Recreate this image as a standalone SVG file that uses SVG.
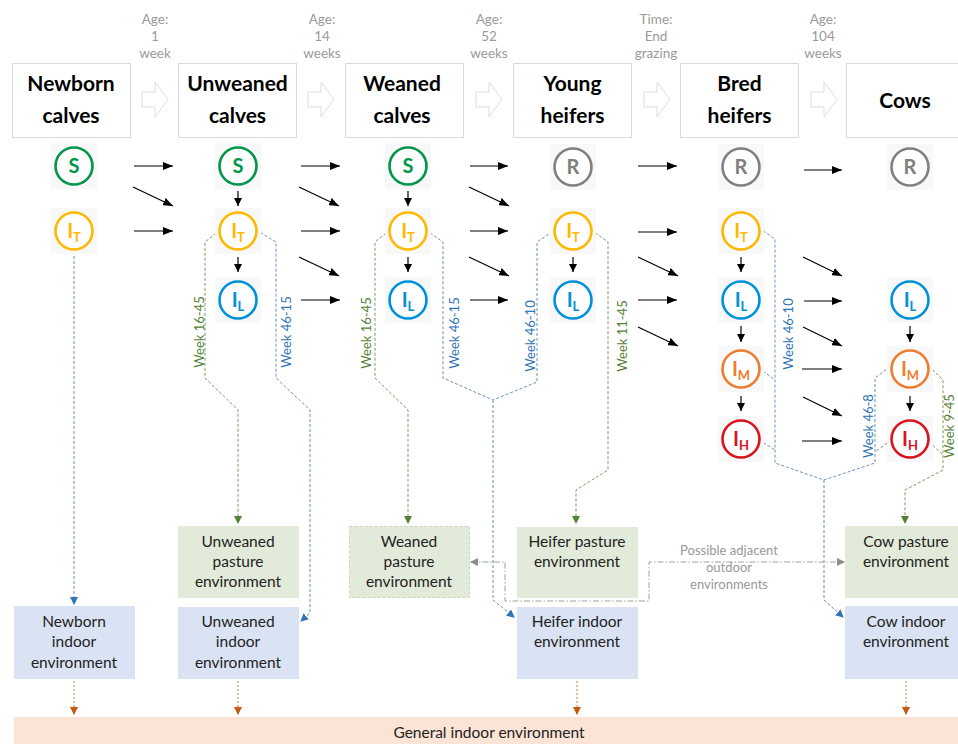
<svg xmlns="http://www.w3.org/2000/svg" width="958" height="744" viewBox="0 0 958 744">
<defs>
<style>
.hb{fill:#fff;stroke:#dadada;stroke-width:1}
.ht{font-family:Lato,"Open Sans",sans-serif;font-weight:bold;font-size:21px;fill:#000;text-anchor:middle}
.ag{font-family:Lato,"Open Sans",sans-serif;font-size:13.5px;fill:#9a9a9a;text-anchor:middle}
.ba{fill:#fff;stroke:#dcdcdc;stroke-width:1}
.sq{fill:#f8f8f8}
.c{fill:#fff;stroke-width:2.6}
.cl{font-family:Lato,"Open Sans",sans-serif;font-weight:bold;font-size:20px;text-anchor:middle}
.sub{font-size:13px}
.ar{stroke:#000;stroke-width:1.2;fill:none;marker-end:url(#ah)}
.vs{stroke:#000;stroke-width:1.2;fill:none;marker-end:url(#ahs)}
.dg{stroke:#7d9a62;stroke-width:1;stroke-dasharray:3 2;fill:none}
.db{stroke:#6b8fbc;stroke-width:1;stroke-dasharray:3 2;fill:none}
.do{stroke:#c8783e;stroke-width:1;stroke-dasharray:2 2;fill:none;marker-end:url(#mo)}
.dd{stroke:#a0a0a0;stroke-width:1;stroke-dasharray:6 2 1.5 2;fill:none}
.wg{font-family:Lato,"Open Sans",sans-serif;font-size:13px;fill:#548235;text-anchor:middle}
.wb{font-family:Lato,"Open Sans",sans-serif;font-size:13px;fill:#2e75b6;text-anchor:middle}
.pb{fill:#e2ead9}
.ib{fill:#dae3f3}
.et{font-family:Lato,"Open Sans",sans-serif;font-size:15.5px;fill:#222;text-anchor:middle}
.pt{font-family:Lato,"Open Sans",sans-serif;font-size:13px;fill:#999;text-anchor:middle}
</style>
<marker id="ah" viewBox="0 0 10 8" markerWidth="10" markerHeight="8" refX="10" refY="4" orient="auto" markerUnits="userSpaceOnUse"><path d="M0,0L10,4L0,8z" fill="#000"/></marker>
<marker id="ahs" viewBox="0 0 8 8" markerWidth="8" markerHeight="8" refX="8" refY="4" orient="auto" markerUnits="userSpaceOnUse"><path d="M0,0L8,4L0,8z" fill="#000"/></marker>
<marker id="mg" viewBox="0 0 8 8" markerWidth="8" markerHeight="8" refX="7" refY="4" orient="auto" markerUnits="userSpaceOnUse"><path d="M0,0L8,4L0,8z" fill="#548235"/></marker>
<marker id="mb" viewBox="0 0 8 8" markerWidth="8" markerHeight="8" refX="7" refY="4" orient="auto" markerUnits="userSpaceOnUse"><path d="M0,0L8,4L0,8z" fill="#2e75b6"/></marker>
<marker id="mo" viewBox="0 0 8 8" markerWidth="8" markerHeight="8" refX="7" refY="4" orient="auto" markerUnits="userSpaceOnUse"><path d="M0,0L8,4L0,8z" fill="#c55a11"/></marker>
<marker id="mgr" viewBox="0 0 8 8" markerWidth="8" markerHeight="8" refX="7" refY="4" orient="auto-start-reverse" markerUnits="userSpaceOnUse"><path d="M0,0L8,4L0,8z" fill="#8c8c8c"/></marker>
<path id="barrow" d="M0,10h13v-10l13,17.5l-13,17.5v-10h-13z"/>
</defs>
<rect width="958" height="744" fill="#fff"/>

<!-- stage headers -->
<g id="stage-newborn"><rect class="hb" x="12.5" y="63.5" width="118" height="74"/><text class="ht" x="71" y="91">Newborn</text><text class="ht" x="71" y="123">calves</text></g>
<g id="stage-unweaned"><rect class="hb" x="178.5" y="63.5" width="118" height="74"/><text class="ht" x="237.5" y="91">Unweaned</text><text class="ht" x="237.5" y="123">calves</text></g>
<g id="stage-weaned"><rect class="hb" x="345.5" y="63.5" width="118" height="74"/><text class="ht" x="402" y="91">Weaned</text><text class="ht" x="402" y="123">calves</text></g>
<g id="stage-young"><rect class="hb" x="513.5" y="63.5" width="118" height="74"/><text class="ht" x="572.5" y="91">Young</text><text class="ht" x="572.5" y="123">heifers</text></g>
<g id="stage-bred"><rect class="hb" x="680.5" y="63.5" width="118" height="74"/><text class="ht" x="739.5" y="91">Bred</text><text class="ht" x="739.5" y="123">heifers</text></g>
<g id="stage-cows"><rect class="hb" x="846.5" y="63.5" width="118" height="74"/><text class="ht" x="905" y="108">Cows</text></g>

<!-- transition block arrows and labels -->
<g id="transitions">
<use href="#barrow" class="ba" x="142" y="82"/>
<use href="#barrow" class="ba" x="308" y="82"/>
<use href="#barrow" class="ba" x="476" y="82"/>
<use href="#barrow" class="ba" x="644" y="82"/>
<use href="#barrow" class="ba" x="811" y="82"/>
<text class="ag" x="155" y="24">Age:</text><text class="ag" x="155" y="41">1</text><text class="ag" x="155" y="58">week</text>
<text class="ag" x="322" y="24">Age:</text><text class="ag" x="322" y="41">14</text><text class="ag" x="322" y="58">weeks</text>
<text class="ag" x="489" y="24">Age:</text><text class="ag" x="489" y="41">52</text><text class="ag" x="489" y="58">weeks</text>
<text class="ag" x="656" y="24">Time:</text><text class="ag" x="656" y="41">End</text><text class="ag" x="656" y="58">grazing</text>
<text class="ag" x="823" y="24">Age:</text><text class="ag" x="823" y="41">104</text><text class="ag" x="823" y="58">weeks</text>
</g>

<!-- connectors -->
<g id="connectors">
<line class="ar" x1="134" y1="166" x2="173" y2="166"/>
<line class="ar" x1="133" y1="187" x2="173" y2="206"/>
<line class="ar" x1="134" y1="231" x2="173" y2="231"/>

<line class="ar" x1="301" y1="166" x2="340" y2="166"/>
<line class="ar" x1="299" y1="187" x2="339" y2="206"/>
<line class="ar" x1="301" y1="231" x2="340" y2="231"/>
<line class="ar" x1="299" y1="257" x2="339" y2="276"/>
<line class="ar" x1="301" y1="300" x2="340" y2="300"/>

<line class="ar" x1="470" y1="166" x2="508" y2="166"/>
<line class="ar" x1="469" y1="187" x2="509" y2="206"/>
<line class="ar" x1="470" y1="231" x2="508" y2="231"/>
<line class="ar" x1="469" y1="257" x2="509" y2="276"/>
<line class="ar" x1="470" y1="300" x2="508" y2="300"/>

<line class="ar" x1="638" y1="166" x2="677" y2="166"/>
<line class="ar" x1="638" y1="232" x2="677" y2="232"/>
<line class="ar" x1="638" y1="257" x2="678" y2="276"/>
<line class="ar" x1="638" y1="300" x2="677" y2="300"/>
<line class="ar" x1="638" y1="327" x2="678" y2="346"/>

<line class="ar" x1="804" y1="170" x2="842" y2="170"/>
<line class="ar" x1="803" y1="257" x2="842" y2="276"/>
<line class="ar" x1="804" y1="301" x2="842" y2="301"/>
<line class="ar" x1="803" y1="327" x2="842" y2="346"/>
<line class="ar" x1="802" y1="369" x2="842" y2="369"/>
<line class="ar" x1="803" y1="397" x2="842" y2="416"/>
<line class="ar" x1="802" y1="441" x2="842" y2="441"/>

<line class="vs" x1="238" y1="191" x2="238" y2="206"/>
<line class="vs" x1="238" y1="257" x2="238" y2="272"/>
<line class="vs" x1="408" y1="191" x2="408" y2="206"/>
<line class="vs" x1="408" y1="257" x2="408" y2="272"/>
<line class="vs" x1="573" y1="257" x2="573" y2="272"/>
<line class="vs" x1="741" y1="257" x2="741" y2="272"/>
<line class="vs" x1="741" y1="326" x2="741" y2="342"/>
<line class="vs" x1="741" y1="396" x2="741" y2="411"/>
<line class="vs" x1="910" y1="326" x2="910" y2="342"/>
<line class="vs" x1="910" y1="396" x2="910" y2="411"/>

<path class="db" d="M74,251V604" marker-end="url(#mb)"/>
<path class="dg" d="M220,230L205,242V378L238,410V523" marker-end="url(#mg)"/>
<path class="db" d="M256,230L276,242V378L310,410V613L301,621" marker-end="url(#mb)"/>
<path class="dg" d="M390,230L375,242V378L408,410V523" marker-end="url(#mg)"/>
<path class="db" d="M426,230L443,242V378L493,400L537,382V242L555,230"/>
<path class="db" d="M493,400V600L514,617" marker-end="url(#mb)"/>
<path class="dg" d="M591,230L608,242V470L576,490V523" marker-end="url(#mg)"/>
<path class="db" d="M759,228L775,239V463L824,480L875,463V378L891,366"/>
<path class="db" d="M759,368L775,380"/>
<path class="db" d="M759,440L775,450"/>
<path class="db" d="M891,440L875,452"/>
<path class="db" d="M824,480V600L843,617" marker-end="url(#mb)"/>
<path class="dg" d="M929,366L943,380V470L905,490V523" marker-end="url(#mg)"/>
<path class="dg" d="M929,442L943,455"/>

<text class="wg" transform="translate(204,332) rotate(-90)">Week 16-45</text>
<text class="wb" transform="translate(291,332) rotate(-90)">Week 46-15</text>
<text class="wg" transform="translate(371,333) rotate(-90)">Week 16-45</text>
<text class="wb" transform="translate(459,333) rotate(-90)">Week 46-15</text>
<text class="wb" transform="translate(535,336) rotate(-90)">Week 46-10</text>
<text class="wg" transform="translate(627,336) rotate(-90)">Week 11-45</text>
<text class="wb" transform="translate(793,334) rotate(-90)">Week 46-10</text>
<text class="wb" transform="translate(873,426) rotate(-90)">Week 46-8</text>
<text class="wg" transform="translate(954,426) rotate(-90)">Week 9-45</text>

<path class="dd" d="M471,562H505V601H649V562H844" marker-start="url(#mgr)" marker-end="url(#mgr)"/>
<text class="pt" x="729" y="555">Possible adjacent</text>
<text class="pt" x="729" y="572">outdoor</text>
<text class="pt" x="729" y="589">environments</text>

<path class="do" d="M74,681V714"/>
<path class="do" d="M238,681V714"/>
<path class="do" d="M577,681V714"/>
<path class="do" d="M906,681V714"/>
</g>

<!-- compartment circles -->
<g id="n-S"><rect class="sq" x="51" y="143" width="46" height="46"/><circle class="c" cx="74" cy="166" r="18.5" stroke="#00964b"/><text class="cl" x="74" y="173" fill="#00964b">S</text></g>
<g id="n-IT"><rect class="sq" x="51" y="208" width="46" height="46"/><circle class="c" cx="74" cy="231" r="18.5" stroke="#ffb800"/><text class="cl" x="74" y="238" fill="#ffb800">I<tspan class="sub" dy="4">T</tspan></text></g>

<g id="u-S"><rect class="sq" x="215" y="143" width="46" height="46"/><circle class="c" cx="238" cy="166" r="18.5" stroke="#00964b"/><text class="cl" x="238" y="173" fill="#00964b">S</text></g>
<g id="u-IT"><rect class="sq" x="215" y="208" width="46" height="46"/><circle class="c" cx="238" cy="231" r="18.5" stroke="#ffb800"/><text class="cl" x="238" y="238" fill="#ffb800">I<tspan class="sub" dy="4">T</tspan></text></g>
<g id="u-IL"><rect class="sq" x="215" y="277" width="46" height="46"/><circle class="c" cx="238" cy="300" r="18.5" stroke="#0091da"/><text class="cl" x="238" y="307" fill="#0091da">I<tspan class="sub" dy="4">L</tspan></text></g>

<g id="w-S"><rect class="sq" x="385" y="143" width="46" height="46"/><circle class="c" cx="408" cy="166" r="18.5" stroke="#00964b"/><text class="cl" x="408" y="173" fill="#00964b">S</text></g>
<g id="w-IT"><rect class="sq" x="385" y="208" width="46" height="46"/><circle class="c" cx="408" cy="231" r="18.5" stroke="#ffb800"/><text class="cl" x="408" y="238" fill="#ffb800">I<tspan class="sub" dy="4">T</tspan></text></g>
<g id="w-IL"><rect class="sq" x="385" y="277" width="46" height="46"/><circle class="c" cx="408" cy="300" r="18.5" stroke="#0091da"/><text class="cl" x="408" y="307" fill="#0091da">I<tspan class="sub" dy="4">L</tspan></text></g>

<g id="y-R"><rect class="sq" x="550" y="144" width="46" height="46"/><circle class="c" cx="573" cy="167" r="18.5" stroke="#808080"/><text class="cl" x="573" y="174" fill="#808080">R</text></g>
<g id="y-IT"><rect class="sq" x="550" y="208" width="46" height="46"/><circle class="c" cx="573" cy="231" r="18.5" stroke="#ffb800"/><text class="cl" x="573" y="238" fill="#ffb800">I<tspan class="sub" dy="4">T</tspan></text></g>
<g id="y-IL"><rect class="sq" x="550" y="277" width="46" height="46"/><circle class="c" cx="573" cy="300" r="18.5" stroke="#0091da"/><text class="cl" x="573" y="307" fill="#0091da">I<tspan class="sub" dy="4">L</tspan></text></g>

<g id="b-R"><rect class="sq" x="718" y="144" width="46" height="46"/><circle class="c" cx="741" cy="167" r="18.5" stroke="#808080"/><text class="cl" x="741" y="174" fill="#808080">R</text></g>
<g id="b-IT"><rect class="sq" x="718" y="208" width="46" height="46"/><circle class="c" cx="741" cy="231" r="18.5" stroke="#ffb800"/><text class="cl" x="741" y="238" fill="#ffb800">I<tspan class="sub" dy="4">T</tspan></text></g>
<g id="b-IL"><rect class="sq" x="718" y="277" width="46" height="46"/><circle class="c" cx="741" cy="300" r="18.5" stroke="#0091da"/><text class="cl" x="741" y="307" fill="#0091da">I<tspan class="sub" dy="4">L</tspan></text></g>
<g id="b-IM"><rect class="sq" x="718" y="346" width="46" height="46"/><circle class="c" cx="741" cy="369" r="18.5" stroke="#ed7d31"/><text class="cl" x="741" y="376" fill="#ed7d31">I<tspan class="sub" dy="4">M</tspan></text></g>
<g id="b-IH"><rect class="sq" x="718" y="416" width="46" height="46"/><circle class="c" cx="741" cy="439" r="18.5" stroke="#d9141c"/><text class="cl" x="741" y="446" fill="#d9141c">I<tspan class="sub" dy="4">H</tspan></text></g>

<g id="c-R"><rect class="sq" x="887" y="144" width="46" height="46"/><circle class="c" cx="910" cy="167" r="18.5" stroke="#808080"/><text class="cl" x="910" y="174" fill="#808080">R</text></g>
<g id="c-IL"><rect class="sq" x="887" y="277" width="46" height="46"/><circle class="c" cx="910" cy="300" r="18.5" stroke="#0091da"/><text class="cl" x="910" y="307" fill="#0091da">I<tspan class="sub" dy="4">L</tspan></text></g>
<g id="c-IM"><rect class="sq" x="887" y="346" width="46" height="46"/><circle class="c" cx="910" cy="369" r="18.5" stroke="#ed7d31"/><text class="cl" x="910" y="376" fill="#ed7d31">I<tspan class="sub" dy="4">M</tspan></text></g>
<g id="c-IH"><rect class="sq" x="887" y="416" width="46" height="46"/><circle class="c" cx="910" cy="439" r="18.5" stroke="#d9141c"/><text class="cl" x="910" y="446" fill="#d9141c">I<tspan class="sub" dy="4">H</tspan></text></g>

<!-- environments -->
<g id="env-unweaned-pasture"><rect class="pb" x="178" y="526" width="121" height="72"/><text class="et" x="238" y="547">Unweaned</text><text class="et" x="238" y="567">pasture</text><text class="et" x="238" y="587">environment</text></g>
<g id="env-weaned-pasture"><rect class="pb" x="349.5" y="526.5" width="120" height="71" stroke="#c9d6bb" stroke-dasharray="3 2"/><text class="et" x="409" y="547">Weaned</text><text class="et" x="409" y="567">pasture</text><text class="et" x="409" y="587">environment</text></g>
<g id="env-heifer-pasture"><rect class="pb" x="517" y="527" width="121" height="71"/><text class="et" x="577" y="547">Heifer pasture</text><text class="et" x="577" y="567">environment</text></g>
<g id="env-cow-pasture"><rect class="pb" x="845" y="526" width="113" height="72"/><text class="et" x="906" y="547">Cow pasture</text><text class="et" x="906" y="567">environment</text></g>
<g id="env-newborn-indoor"><rect class="ib" x="14" y="606" width="121" height="73"/><text class="et" x="74" y="627">Newborn</text><text class="et" x="74" y="647">indoor</text><text class="et" x="74" y="668">environment</text></g>
<g id="env-unweaned-indoor"><rect class="ib" x="178" y="607" width="121" height="72"/><text class="et" x="238" y="627">Unweaned</text><text class="et" x="238" y="647">indoor</text><text class="et" x="238" y="668">environment</text></g>
<g id="env-heifer-indoor"><rect class="ib" x="517" y="607" width="121" height="72"/><text class="et" x="577" y="627">Heifer indoor</text><text class="et" x="577" y="647">environment</text></g>
<g id="env-cow-indoor"><rect class="ib" x="845" y="606" width="113" height="73"/><text class="et" x="906" y="627">Cow indoor</text><text class="et" x="906" y="647">environment</text></g>
<g id="env-general"><rect x="14" y="717" width="944" height="27" fill="#fbe3d5"/><text class="et" x="489" y="738">General indoor environment</text></g>
</svg>
